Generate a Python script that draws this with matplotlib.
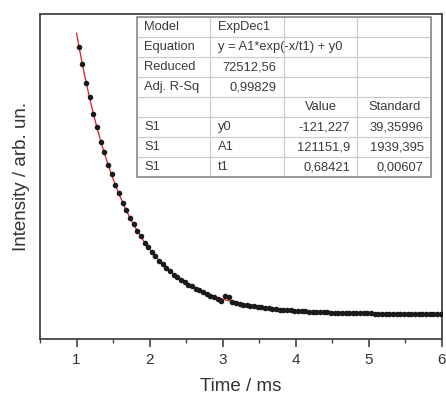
import matplotlib
matplotlib.use("Agg")
import matplotlib.pyplot as plt
import numpy as np
from matplotlib.patches import Rectangle
from matplotlib.ticker import MultipleLocator

plt.rcParams['font.family'] = ['Liberation Sans', 'DejaVu Sans']

# Measured decay (time in ms, intensity in arbitrary units)
time_ms = [1.03, 1.08, 1.13, 1.18, 1.23, 1.28, 1.33, 1.38, 1.43, 1.48,
           1.53, 1.58, 1.63, 1.68, 1.73, 1.78, 1.83, 1.88, 1.93, 1.98,
           2.03, 2.08, 2.13, 2.18, 2.23, 2.28, 2.33, 2.38, 2.43, 2.48,
           2.53, 2.58, 2.63, 2.68, 2.73, 2.78, 2.83, 2.88, 2.93, 2.98,
           3.03, 3.08, 3.13, 3.18, 3.23, 3.28, 3.33, 3.38, 3.43, 3.48,
           3.53, 3.58, 3.63, 3.68, 3.73, 3.78, 3.83, 3.88, 3.93, 3.98,
           4.03, 4.08, 4.13, 4.18, 4.23, 4.28, 4.33, 4.38, 4.43, 4.48,
           4.53, 4.58, 4.63, 4.68, 4.73, 4.78, 4.83, 4.88, 4.93, 4.98,
           5.03, 5.08, 5.13, 5.18, 5.23, 5.28, 5.33, 5.38, 5.43, 5.48,
           5.53, 5.58, 5.63, 5.68, 5.73, 5.78, 5.83, 5.88, 5.93, 5.98]
intensity = [26610, 24950, 23020, 21560, 19870, 18610, 17150, 16080, 14790, 13880,
             12760, 11990, 10990, 10340, 9480, 8920, 8170, 7700, 7040, 6630,
             6060, 5720, 5210, 4930, 4490, 4240, 3850, 3650, 3310, 3140,
             2830, 2700, 2430, 2300, 2060, 1900, 1730, 1560, 1380, 1250,
             1750, 1650, 1150, 1010, 930, 850, 790, 720, 670, 600,
             560, 500, 470, 420, 390, 340, 320, 280, 260, 230,
             210, 180, 165, 140, 130, 105, 95, 75, 70, 50,
             45, 25, 20, 5, 0, -10, -15, -25, -28, -38,
             -40, -50, -50, -60, -60, -68, -68, -75, -76, -82,
             -80, -87, -85, -92, -90, -96, -95, -99, -98, -102]

# ExpDec1 fit parameters
fit_y0 = -121.227
fit_A1 = 121151.9
fit_t1 = 0.68421

table_rows = [
    ["Model", "ExpDec1", "", ""],
    ["Equation", "y = A1*exp(-x/t1) + y0", "", ""],
    ["Reduced", "72512,56", "", ""],
    ["Adj. R-Sq", "0,99829", "", ""],
    ["", "", "Value", "Standard"],
    ["S1", "y0", "-121,227", "39,35996"],
    ["S1", "A1", "121151,9", "1939,395"],
    ["S1", "t1", "0,68421", "0,00607"],
]

x_ticks = [1, 2, 3, 4, 5, 6]

fig = plt.figure(figsize=(4.46, 3.98), dpi=100)
ax = fig.add_axes([0.0897, 0.1482, 0.9013, 0.8178])

t_fit = np.linspace(1.0, 6.0, 500)
ax.plot(t_fit, fit_A1 * np.exp(-t_fit / fit_t1) + fit_y0,
        color='#e8171f', lw=0.9, zorder=2)
ax.plot(time_ms, intensity, 'o', ms=4.0, color='#1a1a1a', mec='none', zorder=3)

ax.set_xlim(0.5, 6.0)
ax.set_ylim(-2600, 29950)
ax.set_xticks(x_ticks)
ax.xaxis.set_minor_locator(MultipleLocator(0.5))
ax.set_yticks([])
ax.tick_params(axis='x', which='major', direction='out', length=6, width=1.2,
               color='#444444', labelsize=11, labelcolor='#333333', pad=4)
ax.tick_params(axis='x', which='minor', direction='out', length=3, width=1.0,
               color='#444444')
for sp in ax.spines.values():
    sp.set_color('#444444')
    sp.set_linewidth(1.3)

ax.set_xlabel("Time / ms", fontsize=13.5, color='#333333', labelpad=8)
ax.set_ylabel("Intensity / arb. un.", fontsize=13.5, color='#333333', labelpad=7)

# Fit results table
tb_bbox = [0.2413, 0.4977, 0.7313, 0.4915]
ax.add_patch(Rectangle((tb_bbox[0], tb_bbox[1]), tb_bbox[2], tb_bbox[3],
                       transform=ax.transAxes, facecolor='white',
                       edgecolor='none', zorder=4))
tbl = ax.table(cellText=table_rows, cellLoc='left', bbox=tb_bbox)
tbl.set_zorder(5)
tbl.auto_set_font_size(False)
tbl.set_fontsize(9.3)
right_cells = {(2, 1), (3, 1), (5, 2), (6, 2), (7, 2), (5, 3), (6, 3), (7, 3)}
center_cells = {(4, 2), (4, 3)}
for (r, c), cell in tbl.get_celld().items():
    cell.set_facecolor('none')
    cell.set_edgecolor('#cccccc')
    cell.set_linewidth(0.8)
    txt = cell.get_text()
    txt.set_color('#3a3a3a')
    if (r, c) in right_cells:
        cell._loc = 'right'
        txt.set_horizontalalignment('right')
    elif (r, c) in center_cells:
        cell._loc = 'center'
        txt.set_horizontalalignment('center')
ax.add_patch(Rectangle((tb_bbox[0], tb_bbox[1]), tb_bbox[2], tb_bbox[3],
                       transform=ax.transAxes, facecolor='none',
                       edgecolor='#858585', lw=1.1, zorder=6))

fig.savefig("out.png", dpi=100)
